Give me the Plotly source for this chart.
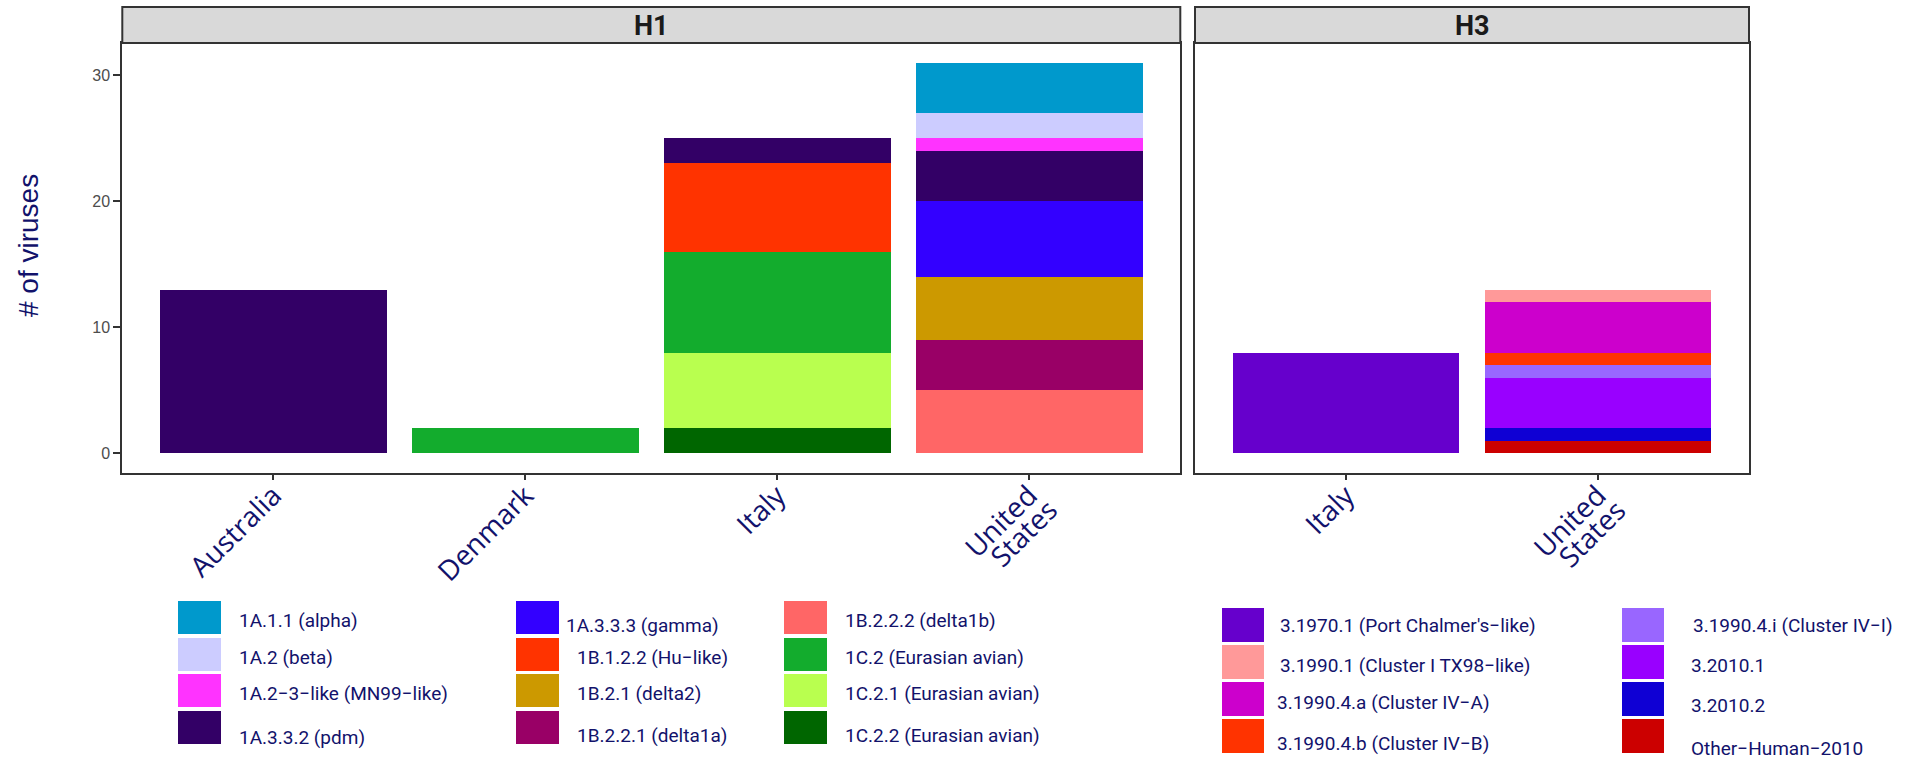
import plotly.graph_objects as go

# ---- data -------------------------------------------------------------
h1_countries = ["Australia", "Denmark", "Italy", "United States"]
h3_countries = ["Italy", "United States"]
# first line of each axis label; the second line of "United States" is added separately
h1_ticktext = ["Australia", "Denmark", "Italy", "United"]
h3_ticktext = ["Italy", "United"]

# H1 clades (legend order) with counts per country in h1_countries order
h1_labels = [
    "1A.1.1 (alpha)", "1A.2 (beta)", "1A.2\u22123\u2212like (MN99\u2212like)", "1A.3.3.2 (pdm)",
    "1A.3.3.3 (gamma)", "1B.1.2.2 (Hu\u2212like)", "1B.2.1 (delta2)", "1B.2.2.1 (delta1a)",
    "1B.2.2.2 (delta1b)", "1C.2 (Eurasian avian)", "1C.2.1 (Eurasian avian)", "1C.2.2 (Eurasian avian)",
]
h1_colors = [
    "#0099CC", "#CCCCFF", "#FF33FF", "#330066",
    "#3300FF", "#FF3300", "#CC9900", "#990066",
    "#FF6666", "#13AC2D", "#B9FF4F", "#006600",
]
alpha_1A11 = [0, 0, 0, 4]
beta_1A2 = [0, 0, 0, 2]
mn99_1A23 = [0, 0, 0, 1]
pdm_1A332 = [13, 0, 2, 4]
gamma_1A333 = [0, 0, 0, 6]
hu_1B122 = [0, 0, 7, 0]
delta2_1B21 = [0, 0, 0, 5]
delta1a_1B221 = [0, 0, 0, 4]
delta1b_1B222 = [0, 0, 0, 5]
eur_1C2 = [0, 2, 8, 0]
eur_1C21 = [0, 0, 6, 0]
eur_1C22 = [0, 0, 2, 0]
h1_values = [alpha_1A11, beta_1A2, mn99_1A23, pdm_1A332, gamma_1A333, hu_1B122,
             delta2_1B21, delta1a_1B221, delta1b_1B222, eur_1C2, eur_1C21, eur_1C22]

# H3 clades (legend order) with counts per country in h3_countries order
h3_labels = [
    "3.1970.1 (Port Chalmer's\u2212like)", "3.1990.1 (Cluster I TX98\u2212like)",
    "3.1990.4.a (Cluster IV\u2212A)", "3.1990.4.b (Cluster IV\u2212B)",
    "3.1990.4.i (Cluster IV\u2212I)", "3.2010.1", "3.2010.2", "Other\u2212Human\u22122010",
]
h3_colors = ["#6600CC", "#FF9999", "#CC00CC", "#FF3300",
             "#9966FF", "#9900FF", "#0F00D4", "#CC0000"]
pc_3_1970_1 = [8, 0]
tx98_3_1990_1 = [0, 1]
iva_3_1990_4a = [0, 4]
ivb_3_1990_4b = [0, 1]
ivi_3_1990_4i = [0, 1]
h3_2010_1 = [0, 4]
h3_2010_2 = [0, 1]
other_human_2010 = [0, 1]
h3_values = [pc_3_1970_1, tx98_3_1990_1, iva_3_1990_4a, ivb_3_1990_4b,
             ivi_3_1990_4i, h3_2010_1, h3_2010_2, other_human_2010]

y_ticks = [0, 10, 20, 30]

# ---- geometry helpers (pixel -> paper) --------------------------------
W, H = 1916, 758
def px(x):
    return x / W
def py(y):
    return 1 - y / H

NAVY = "#12126b"
FRAME = "#333333"

fig = go.Figure()

# stacked bars: first factor level sits on top, so add in reverse order
for lab, col, vals in reversed(list(zip(h1_labels, h1_colors, h1_values))):
    xs = [c for c, v in zip(h1_countries, vals) if v > 0]
    ys = [v for v in vals if v > 0]
    fig.add_trace(go.Bar(x=xs, y=ys, name=lab, marker=dict(color=col, line=dict(width=0)),
                         width=0.9, xaxis="x", yaxis="y", showlegend=False))
for lab, col, vals in reversed(list(zip(h3_labels, h3_colors, h3_values))):
    xs = [c for c, v in zip(h3_countries, vals) if v > 0]
    ys = [v for v in vals if v > 0]
    fig.add_trace(go.Bar(x=xs, y=ys, name=lab, marker=dict(color=col, line=dict(width=0)),
                         width=0.9, xaxis="x2", yaxis="y2", showlegend=False))

panel_top, panel_bot = 43, 473
h1_left, h1_right = 122.3, 1180.3
h3_left, h3_right = 1195, 1749
yrange = [-1.55, 32.55]

xtickfont = dict(family="Open Sans, DejaVu Sans, sans-serif", size=28, color=NAVY)
common_x = dict(type="category", showgrid=False, zeroline=False, showline=True, mirror=True,
                linecolor=FRAME, linewidth=2, ticks="outside", ticklen=5, tickwidth=2,
                tickcolor=FRAME, tickangle=-45, tickfont=xtickfont, ticklabelstandoff=-12)
common_y = dict(range=yrange, showgrid=False, zeroline=False, showline=True, mirror=True,
                linecolor=FRAME, linewidth=2)

fig.update_layout(
    width=W, height=H, margin=dict(l=0, r=0, t=0, b=0),
    paper_bgcolor="white", plot_bgcolor="white",
    barmode="stack", bargap=0.1, showlegend=False,
    xaxis=dict(domain=[px(h1_left), px(h1_right)], range=[-0.6, 3.6],
               categoryorder="array", categoryarray=h1_countries,
               tickmode="array", tickvals=h1_countries, ticktext=h1_ticktext,
               anchor="y", **common_x),
    xaxis2=dict(domain=[px(h3_left), px(h3_right)], range=[-0.6, 1.6],
                categoryorder="array", categoryarray=h3_countries,
                tickmode="array", tickvals=h3_countries, ticktext=h3_ticktext,
                anchor="y2", **common_x),
    yaxis=dict(domain=[py(panel_bot), py(panel_top)], anchor="x", tickvals=y_ticks,
               ticks="outside", ticklen=7, tickwidth=2, tickcolor=FRAME,
               tickfont=dict(family="Liberation Sans, Arial, sans-serif", size=16, color="#4D4D4D"),
               **common_y),
    yaxis2=dict(domain=[py(panel_bot), py(panel_top)], anchor="x2", showticklabels=False,
                ticks="", **common_y),
)

shapes = []
annotations = []

# second line of the two-line country label, set tight under the first line
for xr in ("x", "x2"):
    annotations.append(dict(xref=xr, yref="paper", x="United States", y=py(488),
                            xshift=38, text="States", textangle=-45, showarrow=False,
                            xanchor="right", yanchor="top", font=xtickfont))

# facet strips
for (l, r), title in [((h1_left, h1_right), "H1"), ((h3_left, h3_right), "H3")]:
    shapes.append(dict(type="rect", xref="paper", yref="paper", x0=px(l), x1=px(r),
                       y0=py(panel_top), y1=py(7), fillcolor="#D9D9D9",
                       line=dict(color=FRAME, width=2), layer="above"))
    annotations.append(dict(xref="paper", yref="paper", x=px((l + r) / 2), y=py(26),
                            text="<b>" + title + "</b>", showarrow=False,
                            xanchor="center", yanchor="middle",
                            font=dict(family="Liberation Sans Narrow, Arial Narrow, Roboto, sans-serif",
                                      size=27, color="#1A1A1A")))

# y axis title
annotations.append(dict(xref="paper", yref="paper", x=px(28), y=py(246), text="# of viruses",
                        textangle=-90, showarrow=False, xanchor="center", yanchor="middle",
                        font=dict(family="Liberation Sans, Arial, sans-serif", size=28, color=NAVY)))

legfont = dict(family="Roboto, Liberation Sans, sans-serif", size=19, color=NAVY)

# H1 key: three columns of four
h1_sw_x = [178, 516, 784]
h1_sw_top = [601, 638, 674, 711]
h1_sw_w, h1_sw_h = 43, 33
h1_txt_x = [[237, 237, 237, 237], [564, 575, 575, 575], [843, 843, 843, 843]]
h1_txt_y = [[620, 657, 693, 737], [625, 657, 693, 735], [620, 657, 693, 735]]
for i, (lab, col) in enumerate(zip(h1_labels, h1_colors)):
    c, r = divmod(i, 4)
    x0 = h1_sw_x[c]
    y0 = h1_sw_top[r]
    shapes.append(dict(type="rect", xref="paper", yref="paper", x0=px(x0), x1=px(x0 + h1_sw_w),
                       y0=py(y0 + h1_sw_h), y1=py(y0), fillcolor=col, line=dict(width=0)))
    annotations.append(dict(xref="paper", yref="paper", x=px(h1_txt_x[c][r]), y=py(h1_txt_y[c][r]),
                            text=lab, showarrow=False, xanchor="left", yanchor="middle", font=legfont))

# H3 key: two columns of four
h3_sw_x = [1222, 1622]
h3_sw_top = [608, 645, 682, 719]
h3_sw_w, h3_sw_h = 42, 34
h3_txt_x = [[1278, 1278, 1275, 1275], [1691, 1689, 1689, 1689]]
h3_txt_y = [[625, 665, 702, 743], [625, 665, 705, 748]]
for i, (lab, col) in enumerate(zip(h3_labels, h3_colors)):
    c, r = divmod(i, 4)
    x0 = h3_sw_x[c]
    y0 = h3_sw_top[r]
    shapes.append(dict(type="rect", xref="paper", yref="paper", x0=px(x0), x1=px(x0 + h3_sw_w),
                       y0=py(y0 + h3_sw_h), y1=py(y0), fillcolor=col, line=dict(width=0)))
    annotations.append(dict(xref="paper", yref="paper", x=px(h3_txt_x[c][r]), y=py(h3_txt_y[c][r]),
                            text=lab, showarrow=False, xanchor="left", yanchor="middle", font=legfont))

fig.update_layout(shapes=shapes, annotations=annotations)
fig.write_html("out.html")
